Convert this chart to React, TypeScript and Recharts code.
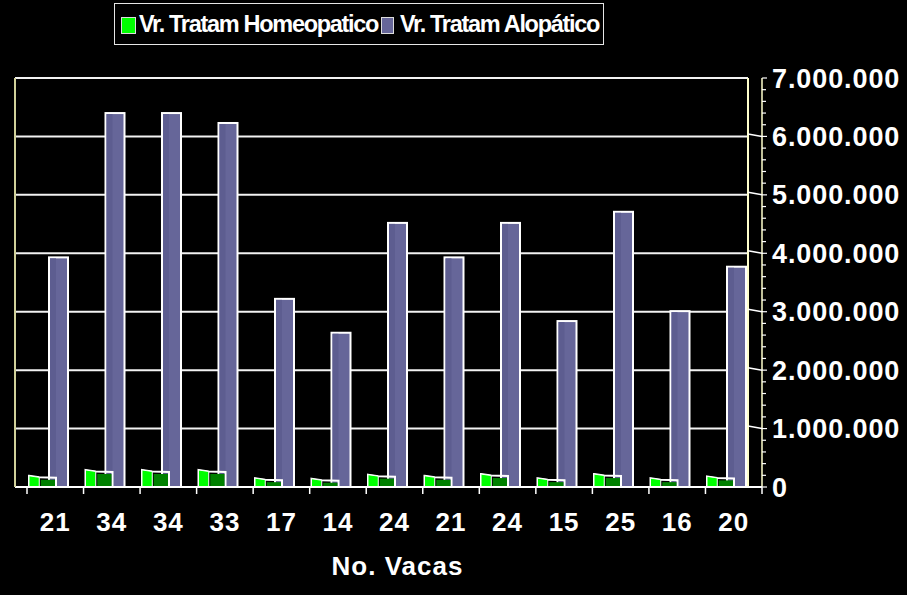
import React from 'react';
import { BarChart, Bar, XAxis, YAxis, CartesianGrid, Legend } from 'recharts';

// No. Vacas per farm (x axis), values in pesos
const categories = ['21', '34', '34', '33', '17', '14', '24', '21', '24', '15', '25', '16', '20'];
const homeopatico = [140000, 240000, 240000, 240000, 100000, 90000, 160000, 140000, 170000, 100000, 170000, 100000, 130000];
const alopatico = [3930000, 6400000, 6400000, 6230000, 3220000, 2640000, 4520000, 3930000, 4520000, 2840000, 4710000, 3010000, 3770000];

const majorTicks = [0, 1000000, 2000000, 3000000, 4000000, 5000000, 6000000, 7000000];
const minorStep = 200000;

const GREEN = '#00ff00';
const GREEN_DARK = '#008000';
const PURPLE = '#666699';
const FONT = '"Liberation Sans", Arial, sans-serif';

const data = categories.map((c, i) => ({
  key: i,
  vacas: c,
  homeo: homeopatico[i],
  alop: alopatico[i],
}));

const allTicks: number[] = [];
for (let v = 0; v <= 7000000; v += minorStep) allTicks.push(v);

const formatNum = (v: number) => String(v).replace(/\B(?=(\d{3})+(?!\d))/g, '.');

const GreenBar = (props: any) => {
  const { x, y, width, height } = props;
  if (!height || height <= 0) return null;
  const split = x + width * 0.38;
  const bottom = y + height;
  return (
    <g>
      <polygon
        points={`${x},${y - 3} ${split},${y - 1.5} ${x + width},${y - 1} ${x + width},${bottom} ${x},${bottom}`}
        fill="none"
        stroke="#ffffff"
        strokeWidth={2}
      />
      <polygon
        points={`${x},${y - 3} ${split},${y - 1.5} ${split},${bottom} ${x},${bottom}`}
        fill={GREEN}
        stroke="#ffffff"
        strokeWidth={1}
      />
      <rect x={split + 1.5} y={y + 1} width={x + width - split - 2.5} height={height - 1} fill={GREEN_DARK} />
    </g>
  );
};

const PurpleBar = (props: any) => {
  const { x, y, width, height } = props;
  if (!height || height <= 0) return null;
  return (
    <g>
      <rect x={x} y={y} width={width} height={height} fill={PURPLE} stroke="#ffffff" strokeWidth={2} />
      <rect x={x + 1} y={y + 1} width={6} height={height - 1} fill="#5d5d90" />
    </g>
  );
};

const FrontTick = (props: any) => {
  const { x, y, payload, index, visibleTicksCount } = props;
  const half = payload.offset || 28;
  const isLast = index === visibleTicksCount - 1;
  return (
    <g>
      <line x1={x - half} y1={y} x2={x + half} y2={y} stroke="#ffffff" strokeWidth={2} />
      <line x1={x - half} y1={y} x2={x - half} y2={y + 7} stroke="#ffffff" strokeWidth={1.5} />
      {isLast && <line x1={x + half} y1={y} x2={x + half} y2={y + 7} stroke="#ffffff" strokeWidth={1.5} />}
      <text
        x={x}
        y={y + 44}
        textAnchor="middle"
        fill="#ffffff"
        fontFamily={FONT}
        fontWeight="bold"
        fontSize={26}
        letterSpacing={1}
      >
        {categories[payload.value]}
      </text>
    </g>
  );
};

const RightTick = (props: any) => {
  const { x, y, payload } = props;
  const isMajor = payload.value % 1000000 === 0;
  if (!isMajor) {
    return <line x1={x} y1={y} x2={x + 4} y2={y} stroke="#ffffff" strokeWidth={1.2} />;
  }
  return (
    <g>
      {payload.value > 0 && payload.value < 7000000 && (
        <line x1={x - 14} y1={y - 2.5} x2={x} y2={y} stroke="#ffffff" strokeWidth={1.5} />
      )}
      <line x1={x} y1={y} x2={x + 5} y2={y} stroke="#ffffff" strokeWidth={1.2} />
      <text
        x={x + 10}
        y={y + 9.5}
        textAnchor="start"
        fill="#ffffff"
        fontFamily={FONT}
        fontWeight="bold"
        fontSize={27}
        letterSpacing={0.9}
      >
        {formatNum(payload.value)}
      </text>
    </g>
  );
};

const LegendBox = () => (
  <div
    style={{
      position: 'relative',
      width: 490,
      height: 42,
      border: '1.5px solid #e6e6e6',
      boxSizing: 'border-box',
      fontFamily: FONT,
      fontWeight: 'bold',
      fontSize: 23.5,
      lineHeight: '26px',
      color: '#ffffff',
    }}
  >
    <span style={{ position: 'absolute', left: 6, top: 13, width: 13, height: 15, background: GREEN, border: '1px solid #dddddd' }} />
    <span style={{ position: 'absolute', left: 24, top: 7, whiteSpace: 'nowrap', letterSpacing: -1.3 }}>Vr. Tratam Homeopatico</span>
    <span style={{ position: 'absolute', left: 266, top: 13, width: 11, height: 15, background: PURPLE, border: '1px solid #dddddd' }} />
    <span style={{ position: 'absolute', left: 285, top: 7, whiteSpace: 'nowrap', letterSpacing: -1.3 }}>Vr. Tratam Alopático</span>
  </div>
);

const AxisTitle = (props: any) => {
  const { viewBox } = props;
  return (
    <text
      x={viewBox.x + viewBox.width / 2 + 16}
      y={viewBox.y + 88}
      textAnchor="middle"
      fill="#ffffff"
      fontFamily={FONT}
      fontWeight="bold"
      fontSize={26}
      letterSpacing={1}
    >
      No. Vacas
    </text>
  );
};

export default function App() {
  return (
    <div style={{ position: 'fixed', left: 0, top: 0, width: 907, height: 595, background: '#000000', overflow: 'hidden' }}>
      <BarChart
        width={907}
        height={595}
        data={data}
        margin={{ top: 78, right: 0, bottom: 0, left: 14 }}
        barGap={-39}
      >
        <CartesianGrid
          xAxisId="front"
          yAxisId="r2"
          horizontal
          vertical={false}
          horizontalValues={majorTicks}
          stroke="#ffffff"
          strokeWidth={2}
          strokeOpacity={0.95}
        />
        <XAxis
          xAxisId="front"
          dataKey="key"
          type="category"
          height={108}
          padding={{ left: 12, right: -14 }}
          axisLine={{ stroke: '#ffffff', strokeWidth: 2 }}
          tickLine={false}
          tickSize={0}
          tickMargin={0}
          interval={0}
          tick={<FrontTick />}
          label={<AxisTitle />}
        />
        <XAxis xAxisId="bars" dataKey="key" type="category" hide height={0} padding={{ left: 9, right: -10.5 }} />
        <YAxis
          yAxisId="l"
          orientation="left"
          width={1}
          domain={[0, 7000000]}
          tick={false}
          axisLine={{ stroke: '#d0d09a', strokeWidth: 2 }}
          tickLine={false}
        />
        <YAxis
          yAxisId="r1"
          orientation="right"
          width={14}
          domain={[0, 7000000]}
          ticks={majorTicks}
          tick={false}
          tickLine={false}
          axisLine={{ stroke: '#ffffcc', strokeWidth: 2 }}
        />
        <YAxis
          yAxisId="r2"
          orientation="right"
          width={145}
          domain={[0, 7000000]}
          ticks={allTicks}
          interval={0}
          tickSize={0}
          tickMargin={0}
          tickLine={false}
          tick={<RightTick />}
          axisLine={{ stroke: '#ffffcc', strokeWidth: 1.5 }}
        />
        <Legend
          layout="horizontal"
          verticalAlign="middle"
          align="center"
          wrapperStyle={{ top: 3, left: 114, width: 490, height: 42 }}
          content={<LegendBox />}
        />
        <Bar
          xAxisId="bars"
          yAxisId="r2"
          dataKey="alop"
          name="Vr. Tratam Alopático"
          fill={PURPLE}
          barSize={19}
          shape={<PurpleBar />}
          isAnimationActive={false}
        />
        <Bar
          xAxisId="bars"
          yAxisId="r2"
          dataKey="homeo"
          name="Vr. Tratam Homeopatico"
          fill={GREEN}
          barSize={27}
          shape={<GreenBar />}
          isAnimationActive={false}
        />
      </BarChart>
    </div>
  );
}
